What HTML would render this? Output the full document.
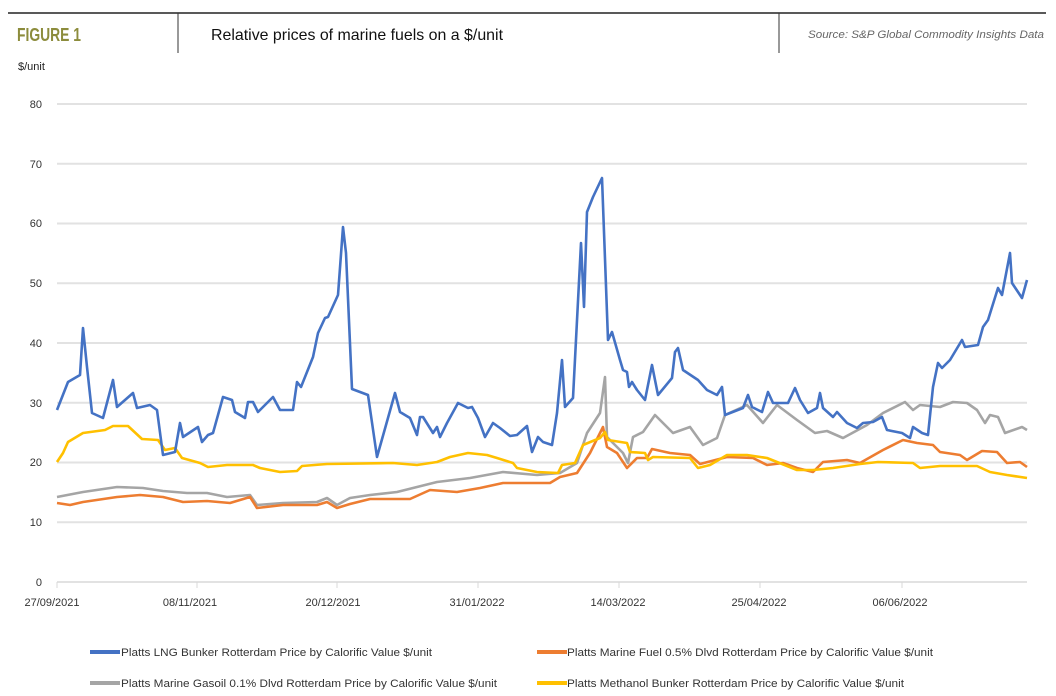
<!DOCTYPE html>
<html><head><meta charset="utf-8"><style>
html,body{margin:0;padding:0;background:#fff;width:1056px;height:696px;overflow:hidden}
svg{display:block;font-family:"Liberation Sans Narrow","Liberation Sans",sans-serif}
</style></head><body>
<svg width="1056" height="696" viewBox="0 0 1056 696">
<line x1="8" y1="13" x2="1046" y2="13" stroke="#222" stroke-width="1.5"/>
<line x1="178" y1="13" x2="178" y2="53" stroke="#333" stroke-width="1"/>
<line x1="779" y1="13" x2="779" y2="53" stroke="#333" stroke-width="1"/>
<text x="17" y="41" font-size="18" font-weight="bold" fill="#8c8c3c" textLength="64" lengthAdjust="spacingAndGlyphs">FIGURE 1</text>
<text x="211" y="40" font-size="16" fill="#111" textLength="292" lengthAdjust="spacingAndGlyphs">Relative prices of marine fuels on a $/unit</text>
<text x="808" y="38" font-size="11" font-style="italic" fill="#666" textLength="236" lengthAdjust="spacingAndGlyphs">Source: S&amp;P Global Commodity Insights Data</text>
<text x="18" y="70" font-size="11" fill="#222">$/unit</text>
<g stroke="#e2e2e2" stroke-width="2">
<line x1="57" y1="104" x2="1027" y2="104"/><line x1="57" y1="163.8" x2="1027" y2="163.8"/>
<line x1="57" y1="223.5" x2="1027" y2="223.5"/><line x1="57" y1="283.3" x2="1027" y2="283.3"/>
<line x1="57" y1="343" x2="1027" y2="343"/><line x1="57" y1="402.8" x2="1027" y2="402.8"/>
<line x1="57" y1="462.5" x2="1027" y2="462.5"/><line x1="57" y1="522.3" x2="1027" y2="522.3"/>
<line x1="57" y1="582" x2="1027" y2="582"/>
</g>
<g stroke="#d8d8d8" stroke-width="1">
<line x1="57" y1="582" x2="57" y2="588"/><line x1="197" y1="582" x2="197" y2="588"/><line x1="337" y1="582" x2="337" y2="588"/><line x1="478" y1="582" x2="478" y2="588"/><line x1="619" y1="582" x2="619" y2="588"/><line x1="760" y1="582" x2="760" y2="588"/><line x1="902" y1="582" x2="902" y2="588"/>
</g>
<g font-size="11" fill="#333" text-anchor="end">
<text x="42" y="108">80</text><text x="42" y="168">70</text><text x="42" y="227">60</text><text x="42" y="287">50</text><text x="42" y="347">40</text><text x="42" y="407">30</text><text x="42" y="466">20</text><text x="42" y="526">10</text><text x="42" y="586">0</text>
</g>
<g font-size="11" fill="#333" text-anchor="middle">
<text x="52" y="606">27/09/2021</text><text x="190" y="606">08/11/2021</text><text x="333" y="606">20/12/2021</text><text x="477" y="606">31/01/2022</text><text x="618" y="606">14/03/2022</text><text x="759" y="606">25/04/2022</text><text x="900" y="606">06/06/2022</text>
</g>
<g fill="none" stroke-width="2.6" stroke-linejoin="round">
<polyline stroke="#a5a5a5" points="57,497 83,492 117,487 143,488 163,491 187,493 207,493 227,497 250,495 257,505 283,503 317,502 327,498 337,505 350,498 370,495 397,492 437,482 470,478 503,472 537,475 560,473 577,463 587,433 600,413 605,377 607,437 623,453 628,463 633,437 643,432 655,415 673,433 690,427 703,445 717,438 725,415 747,405 763,423 777,405 797,420 815,433 827,431 843,438 867,425 883,413 905,402 913,410 920,405 940,407 953,402 967,403 977,410 985,423 990,415 998,417 1005,433 1022,427 1027,430"/>
<polyline stroke="#ed7d31" points="57,503 70,505 83,502 117,497 140,495 163,497 183,502 207,501 230,503 250,497 257,508 283,505 317,505 327,502 337,508 350,504 370,499 410,499 430,490 457,492 480,488 503,483 527,483 550,483 560,477 577,473 590,453 603,427 607,447 617,453 627,468 637,458 647,458 652,449 670,453 690,455 700,464 727,457 753,458 767,465 783,463 797,468 813,472 823,462 847,460 860,463 883,450 903,440 917,443 933,445 940,452 960,455 967,460 982,451 997,452 1007,463 1020,462 1027,467"/>
<polyline stroke="#ffc000" points="57,462 63,453 68,442 83,433 105,430 113,426 128,426 142,439 158,440 165,450 175,448 182,458 200,463 208,467 227,465 253,465 260,468 280,472 297,471 302,466 327,464 393,463 417,465 437,462 450,457 468,453 487,455 497,458 513,463 517,468 537,472 558,473 562,465 575,463 583,445 600,438 605,432 608,440 627,443 630,452 645,453 648,460 653,457 690,458 698,468 710,465 727,455 747,455 767,458 797,470 813,470 833,468 860,464 878,462 913,463 920,468 940,466 977,466 990,472 1007,475 1027,478"/>
<polyline stroke="#4472c4" points="57,410 68,382 80,375 83,328 87,367 92,413 103,418 113,380 117,407 133,393 137,408 150,405 157,410 163,455 175,452 180,423 183,437 198,427 202,442 208,435 213,433 223,397 232,400 235,412 245,418 248,402 253,402 258,412 270,400 273,397 280,410 293,410 297,382 301,387 313,357 318,333 325,318 328,317 338,295 343,227 346,253 352,389 368,395 377,457 395,393 400,412 410,418 417,435 420,417 423,417 433,433 437,427 440,437 447,423 458,403 468,408 472,407 478,418 485,437 493,423 500,428 510,436 517,435 527,426 532,452 538,437 543,442 552,445 557,413 562,360 565,407 573,398 581,243 584,307 587,212 593,197 602,178 608,340 612,332 620,360 623,370 627,372 629,387 632,382 637,390 645,400 652,365 658,395 672,378 675,352 678,348 683,370 698,380 707,390 717,395 722,387 725,415 743,408 748,395 752,407 762,412 768,392 773,403 788,403 795,388 800,400 808,413 817,408 820,393 823,408 833,417 837,412 847,423 857,428 863,423 873,422 882,417 887,430 902,433 910,438 913,427 922,433 928,435 933,387 938,363 942,368 950,360 962,340 965,347 978,345 983,327 988,320 998,288 1002,295 1010,253 1012,283 1022,298 1027,280"/>
</g>
<g stroke-width="4">
<line x1="90" y1="652" x2="120" y2="652" stroke="#4472c4"/>
<line x1="537" y1="652" x2="567" y2="652" stroke="#ed7d31"/>
<line x1="90" y1="683" x2="120" y2="683" stroke="#a5a5a5"/>
<line x1="537" y1="683" x2="567" y2="683" stroke="#ffc000"/>
</g>
<g font-size="11" fill="#333" lengthAdjust="spacingAndGlyphs">
<text x="121" y="656" textLength="311" lengthAdjust="spacingAndGlyphs">Platts LNG Bunker Rotterdam Price by Calorific Value $/unit</text>
<text x="567" y="656" textLength="366" lengthAdjust="spacingAndGlyphs">Platts Marine Fuel 0.5% Dlvd Rotterdam Price by Calorific Value $/unit</text>
<text x="121" y="687" textLength="376" lengthAdjust="spacingAndGlyphs">Platts Marine Gasoil 0.1% Dlvd Rotterdam Price by Calorific Value $/unit</text>
<text x="567" y="687" textLength="337" lengthAdjust="spacingAndGlyphs">Platts Methanol Bunker Rotterdam Price by Calorific Value $/unit</text>
</g>
</svg>
</body></html>
